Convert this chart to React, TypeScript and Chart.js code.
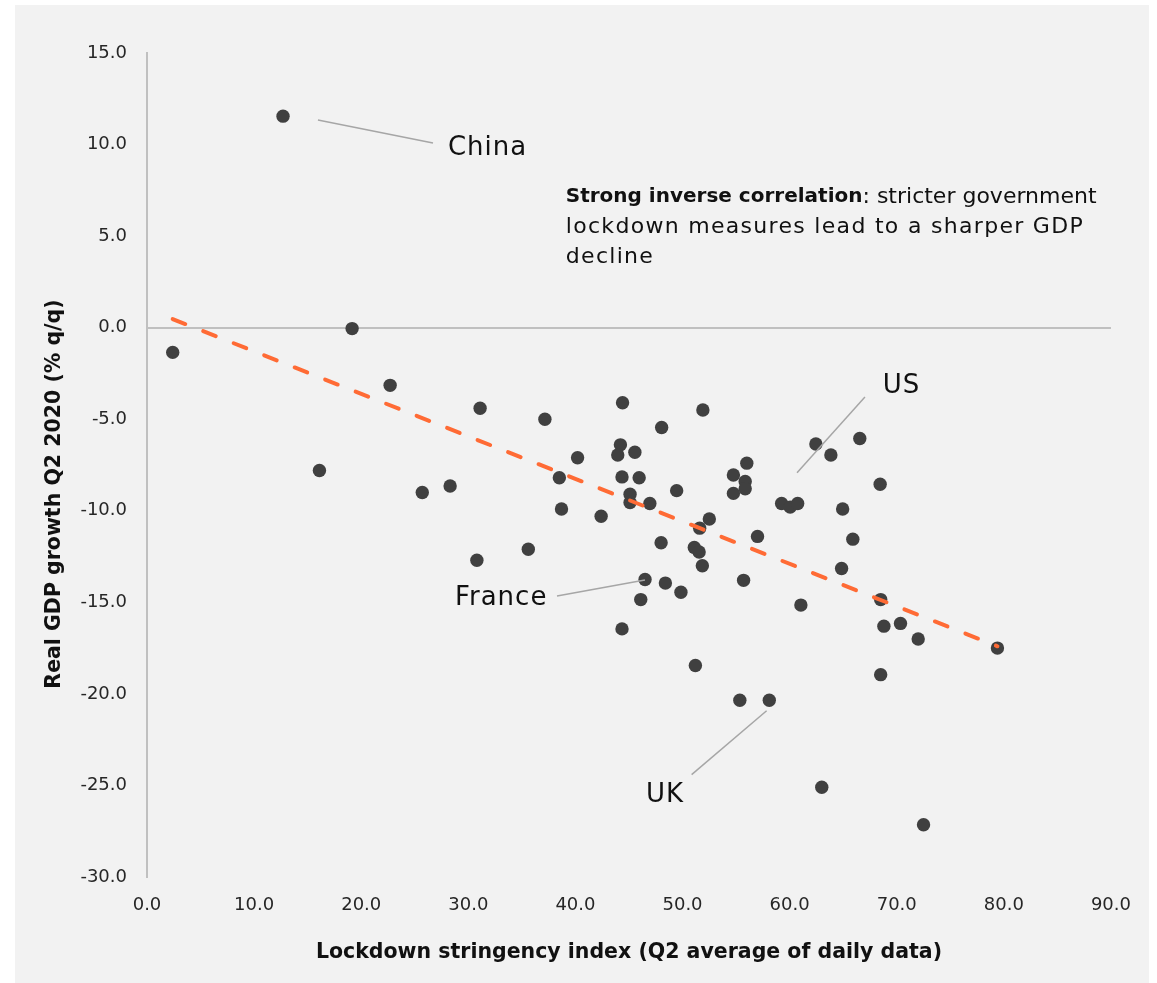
import { useEffect, useRef } from 'react';
import { Chart, registerables } from 'chart.js';

Chart.register(...registerables);

// Lockdown stringency index (Q2 average of daily data)
const stringency = [
  2.4, 12.7, 19.15, 16.1, 22.7, 25.7, 28.3, 31.1, 30.8, 35.6,
  37.15, 38.5, 38.7, 40.2, 42.4, 44.4, 51.9, 48.05, 44.2, 43.95,
  45.55, 44.35, 45.95, 45.1, 45.1, 46.95, 49.45, 54.75, 56.0, 55.85,
  54.75, 55.85, 59.25, 60.05, 60.75, 52.5, 51.6, 57.0, 48.0, 51.1,
  51.55, 51.85, 55.7, 46.5, 48.4, 49.85, 46.1, 44.35, 61.05, 51.2,
  55.35, 58.1, 63.0, 64.85, 62.45, 66.55, 63.85, 68.45, 64.95, 65.9,
  68.5, 68.8, 70.35, 72.0, 79.4, 68.5, 72.5,
];
// Real GDP growth Q2 2020 (% q/q)
const gdpGrowth = [
  -1.35, 11.55, -0.05, -7.8, -3.15, -9.0, -8.65, -4.4, -12.7, -12.1,
  -5.0, -8.2, -9.9, -7.1, -10.3, -4.1, -4.5, -5.45, -6.4, -6.95,
  -6.8, -8.15, -8.2, -9.1, -9.55, -9.6, -8.9, -8.05, -7.4, -8.4,
  -9.05, -8.8, -9.6, -9.8, -9.6, -10.45, -10.95, -11.4, -11.75, -12.0,
  -12.25, -13.0, -13.8, -13.75, -13.95, -14.45, -14.85, -16.45, -15.15, -18.45,
  -20.35, -20.35, -25.1, -13.15, -6.35, -6.05, -6.95, -8.55, -9.9, -11.55,
  -14.85, -16.3, -16.15, -17.0, -17.5, -18.95, -27.15,
];

// Linear trend line end points
const trendX = [2.4, 79.4];
const trendY = [0.47, -17.4];

// Axis ranges / tick steps
const xRange = [0, 90];
const xStep = 10;
const yRange = [-30, 15];
const yStep = 5;

const xTitle = 'Lockdown stringency index (Q2 average of daily data)';
const yTitle = 'Real GDP growth Q2 2020 (% q/q)';

// Country call-outs (in data coordinates)
const calloutLabels = ['China', 'US', 'France', 'UK'];
const calloutTextAt = [
  [28.1, 9.81],
  [68.7, -3.18],
  [28.75, -14.76],
  [46.59, -25.53],
];
const calloutLines = [
  [[15.96, 11.34], [26.7, 10.09]],
  [[67.03, -3.78], [60.69, -7.93]],
  [[38.28, -14.65], [46.49, -13.78]],
  [[50.85, -24.41], [57.85, -20.92]],
];

const noteBold = 'Strong inverse correlation';
const noteLines = [': stricter government', 'lockdown measures lead to a sharper GDP', 'decline'];
const noteAt = [39.1, 7.14];

const FONT = '"DejaVu Sans", "Noto Sans", sans-serif';

const overlayPlugin = {
  id: 'overlay',
  afterDraw(chart: any) {
    const { ctx, chartArea, scales } = chart;
    const xs = scales.x;
    const ys = scales.y;
    ctx.save();
    // connectors
    ctx.strokeStyle = '#a6a6a6';
    ctx.lineWidth = 1.5;
    calloutLines.forEach((seg) => {
      ctx.beginPath();
      ctx.moveTo(xs.getPixelForValue(seg[0][0]), ys.getPixelForValue(seg[0][1]));
      ctx.lineTo(xs.getPixelForValue(seg[1][0]), ys.getPixelForValue(seg[1][1]));
      ctx.stroke();
    });
    // country labels
    ctx.fillStyle = '#111111';
    ctx.textBaseline = 'middle';
    ctx.textAlign = 'left';
    ctx.font = `26px ${FONT}`;
    (ctx as any).letterSpacing = '1px';
    calloutLabels.forEach((t, i) => {
      ctx.fillText(t, xs.getPixelForValue(calloutTextAt[i][0]), ys.getPixelForValue(calloutTextAt[i][1]));
    });
    // note
    const nx = xs.getPixelForValue(noteAt[0]);
    const ny = ys.getPixelForValue(noteAt[1]);
    (ctx as any).letterSpacing = '0px';
    ctx.font = `bold 20px ${FONT}`;
    ctx.fillText(noteBold, nx, ny);
    const bw = ctx.measureText(noteBold).width;
    ctx.font = `22px ${FONT}`;
    ctx.fillText(noteLines[0], nx + bw, ny);
    (ctx as any).letterSpacing = '1.3px';
    ctx.fillText(noteLines[1], nx, ny + 30);
    ctx.fillText(noteLines[2], nx, ny + 60);
    // axis titles
    (ctx as any).letterSpacing = '0px';
    ctx.font = `bold 20.5px ${FONT}`;
    ctx.fillStyle = '#111111';
    ctx.textAlign = 'center';
    ctx.fillText(xTitle, (chartArea.left + chartArea.right) / 2, chartArea.bottom + 76);
    ctx.translate(chartArea.left - 92, (chartArea.top + chartArea.bottom) / 2 + 29);
    ctx.rotate(-Math.PI / 2);
    ctx.fillText(yTitle, 0, 0);
    ctx.restore();
  },
};

export default function App() {
  const ref = useRef<HTMLCanvasElement | null>(null);

  useEffect(() => {
    if (!ref.current) return;
    const points = stringency.map((x, i) => ({ x, y: gdpGrowth[i] }));
    const trend = trendX.map((x, i) => ({ x, y: trendY[i] }));
    const chart = new Chart(ref.current, {
      type: 'scatter',
      data: {
        datasets: [
          {
            type: 'line',
            label: 'Trend',
            data: trend,
            borderColor: '#ff6b35',
            borderWidth: 4,
            borderDash: [13.5, 19.3],
            borderCapStyle: 'round',
            pointRadius: 0,
            fill: false,
            order: 0,
          } as any,
          {
            label: 'Countries',
            data: points,
            backgroundColor: '#404040',
            borderWidth: 0,
            pointRadius: 6.7,
            pointHoverRadius: 6.7,
            order: 1,
          },
        ],
      },
      options: {
        animation: false,
        responsive: true,
        maintainAspectRatio: false,
        layout: { padding: { top: 48, right: 38, left: 0, bottom: 0 } },
        plugins: { legend: { display: false }, tooltip: { enabled: false } },
        scales: {
          x: {
            type: 'linear',
            min: xRange[0],
            max: xRange[1],
            ticks: {
              stepSize: xStep,
              callback: (v: any) => Number(v).toFixed(1),
              font: { family: FONT, size: 18 },
              color: '#262626',
              padding: 18,
              maxRotation: 0,
            },
            grid: { display: false, drawTicks: false },
            border: { display: false },
            afterFit: (s: any) => {
              s.height = 106;
            },
          },
          y: {
            type: 'linear',
            min: yRange[0],
            max: yRange[1],
            ticks: {
              stepSize: yStep,
              callback: (v: any) => Number(v).toFixed(1),
              font: { family: FONT, size: 18 },
              color: '#262626',
              padding: 20,
            },
            grid: {
              drawTicks: false,
              lineWidth: 2,
              color: (c: any) => (c.tick && c.tick.value === 0 ? '#c0c0c0' : 'rgba(0,0,0,0)'),
            },
            border: { display: true, color: '#c0c0c0', width: 2 },
            afterFit: (s: any) => {
              s.width = 132;
            },
          },
        },
      },
      plugins: [overlayPlugin],
    });
    return () => chart.destroy();
  }, []);

  return (
    <div
      style={{
        position: 'absolute',
        left: 15,
        top: 5,
        width: 1134,
        height: 978,
        background: '#f2f2f2',
      }}
    >
      <canvas ref={ref} />
    </div>
  );
}
